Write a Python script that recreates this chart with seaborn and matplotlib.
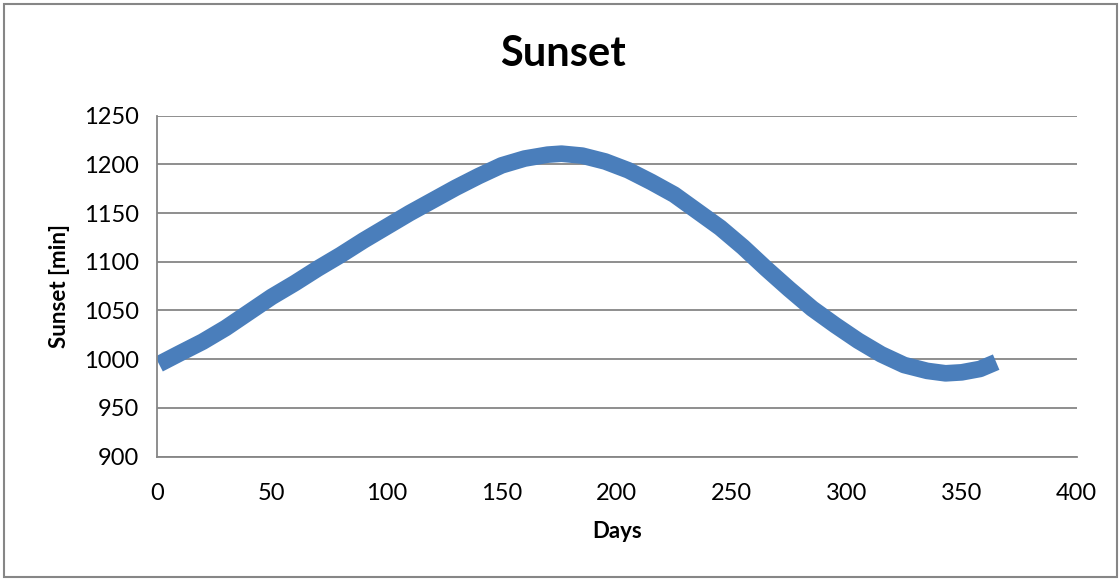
import matplotlib
matplotlib.use("Agg")
import matplotlib.pyplot as plt
import seaborn as sns
import pandas as pd
from matplotlib.patches import Rectangle

# values
days = [1, 10, 20, 30, 40, 50, 60, 70, 80, 90, 100, 110, 120, 130, 140, 150, 160, 170,
        176, 185, 195, 205, 215, 225, 235, 245, 255, 265, 275, 285, 295, 305, 315, 325,
        335, 343, 350, 358, 365]
sunset = [995, 1006, 1018, 1032, 1048, 1064, 1078, 1093, 1107, 1122, 1136, 1150, 1163, 1176,
          1188, 1199, 1206, 1210, 1211, 1209, 1203, 1194, 1182, 1169, 1152, 1135, 1115, 1093,
          1072, 1052, 1035, 1019, 1005, 994, 988, 985.5, 986.5, 990, 997]
x_ticks = [0, 50, 100, 150, 200, 250, 300, 350, 400]
y_ticks = [900, 950, 1000, 1050, 1100, 1150, 1200, 1250]

df = pd.DataFrame({"Days": days, "Sunset [min]": sunset})

sns.set_style("white")
plt.rcParams["font.family"] = ["Lato", "DejaVu Sans"]
plt.rcParams["text.color"] = "black"

fig = plt.figure(figsize=(11.2, 5.79), dpi=100)
ax = fig.add_axes([0.1399, 0.2114, 0.8214, 0.5888])

grey = "#868686"
sns.lineplot(data=df, x="Days", y="Sunset [min]", ax=ax, color="#4A7EBB",
             linewidth=12, solid_capstyle="butt", solid_joinstyle="round")

ax.set_xlim(0, 400)
ax.set_ylim(900, 1250)
ax.set_xticks(x_ticks)
ax.set_yticks(y_ticks)
ax.yaxis.grid(True, color=grey, linewidth=1.3)
ax.set_axisbelow(True)
for s in ["top", "right"]:
    ax.spines[s].set_visible(False)
for s in ["left", "bottom"]:
    ax.spines[s].set_color(grey)
    ax.spines[s].set_linewidth(1.3)
ax.tick_params(axis="both", direction="out", length=7, width=1.3, color=grey,
               labelsize=17, labelcolor="black", pad=6)
ax.tick_params(axis="x", pad=12)

ax.set_xlabel("Days", fontsize=16, fontweight="bold", labelpad=12, color="black")
ax.set_ylabel("Sunset [min]", fontsize=16, fontweight="bold", labelpad=10, color="black")
fig.text(0.503, 0.907, "Sunset", ha="center", va="center", fontsize=30, fontweight="bold",
         color="black")

fig.patches.append(Rectangle((0.004, 0.004), 0.993, 0.989, transform=fig.transFigure,
                             fill=False, edgecolor=grey, linewidth=1.5))

fig.savefig("out.png", dpi=100)
